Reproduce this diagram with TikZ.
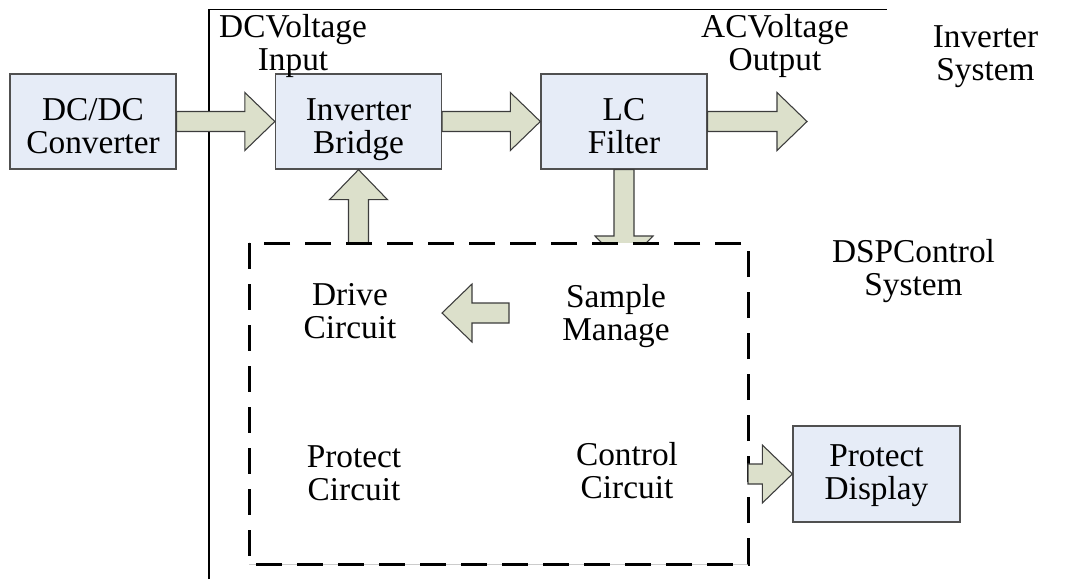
\documentclass[tikz,border=0pt]{standalone}
\usepackage{fontspec}
\setmainfont{Liberation Serif}
\usetikzlibrary{calc}
\definecolor{boxfill}{HTML}{E6ECF7}
\definecolor{arrfill}{HTML}{DCE0CB}
\definecolor{boxline}{HTML}{505050}
\definecolor{arrline}{HTML}{3C3C3C}
\newcommand\twoline[3][28.8pt]{\rule{0pt}{#1}#2\\#3\rule[-6pt]{0pt}{6pt}}
\newcommand\fatarrow[2]{%
  \coordinate (fahead) at ($(#2)!22.5pt!(#1)$);
  \draw[blockarr] ($(#1)!7.5pt!90:(#2)$) -- ($(fahead)!7.5pt!-90:(#1)$) -- ($(fahead)!21.75pt!-90:(#1)$) -- (#2) -- ($(fahead)!21.75pt!90:(#1)$) -- ($(fahead)!7.5pt!90:(#1)$) -- ($(#1)!7.5pt!-90:(#2)$) -- cycle;}
\begin{document}
\begin{tikzpicture}[x=0.75pt,y=-0.75pt,
  box/.style={draw=boxline,fill=boxfill,line width=1pt,minimum width=124.5pt,minimum height=71.25pt,inner sep=0pt,align=center,font=\fontsize{25}{25}\selectfont},
  txt/.style={align=center,inner sep=0pt,font=\fontsize{25}{25}\selectfont},
  blockarr/.style={draw=arrline,fill=arrfill,line width=0.8pt,line join=miter},
  dspbox/.style={draw=black,fill=white,line width=2.25pt,dash pattern=on 19.5pt off 11.25pt},
  frameline/.style={draw=black,line width=0.8pt}]
\useasboundingbox (0,0) rectangle (1066,579);
% frame of the inverter system
\coordinate (fbot) at (209,579);
\coordinate (ftop) at (209,9.5);
\coordinate (fend) at (887,9.5);
\draw[frameline] (fbot) -- (ftop) -- (fend);
% main blocks
\node[box] (dc) at (93,121.5) {\twoline{DC/DC}{Converter}};
\node[box] (br) at (358.5,121.5) {\twoline{Inverter}{Bridge}};
\node[box] (lc) at (624,121.5) {\twoline{LC}{Filter}};
% connector end points
\coordinate (acout) at (807,121.5);
\coordinate (lcdown) at (624,266);
\coordinate (dspnw) at (249,243);
\coordinate (dspse) at (748,564);
\coordinate (brup) at (br.south |- dspnw);
% arrows of the power path
\fatarrow{dc.east}{br.west}
\fatarrow{br.east}{lc.west}
\fatarrow{lc.east}{acout}
\fatarrow{lc.south}{lcdown}
\fatarrow{brup}{br.south}
% DSP control system box
\draw[gray!40,line width=0.75pt] (dspnw |- dspse) -- (dspse);
\draw[dspbox] (dspnw) rectangle (dspse);
% inner arrow and display
\node[box,minimum width=125.25pt,minimum height=72pt] (pd) at (876.5,474) {\twoline[19pt]{Protect}{Display}};
\coordinate (smout) at (509,313);
\coordinate (drin) at (442,313);
\coordinate (pdarr) at (dspse |- pd.west);
\fatarrow{smout}{drin}
\fatarrow{pdarr}{pd.west}
% texts
\node[txt] (dcin) at (293,39) {\twoline{DCVoltage}{Input}};
\node[txt] (acvo) at (775,39) {\twoline{ACVoltage}{Output}};
\node[txt] (invs) at (985.5,48.5) {\twoline{Inverter}{System}};
\node[txt] (dsps) at (913.5,263.5) {\twoline{DSPControl}{System}};
\node[txt] (drv) at (350,306.5) {\twoline{Drive}{Circuit}};
\node[txt] (smp) at (616,308.5) {\twoline{Sample}{Manage}};
\node[txt] (prc) at (354,468.5) {\twoline{Protect}{Circuit}};
\node[txt] (ctl) at (627,466.5) {\twoline{Control}{Circuit}};
\end{tikzpicture}
\end{document}
